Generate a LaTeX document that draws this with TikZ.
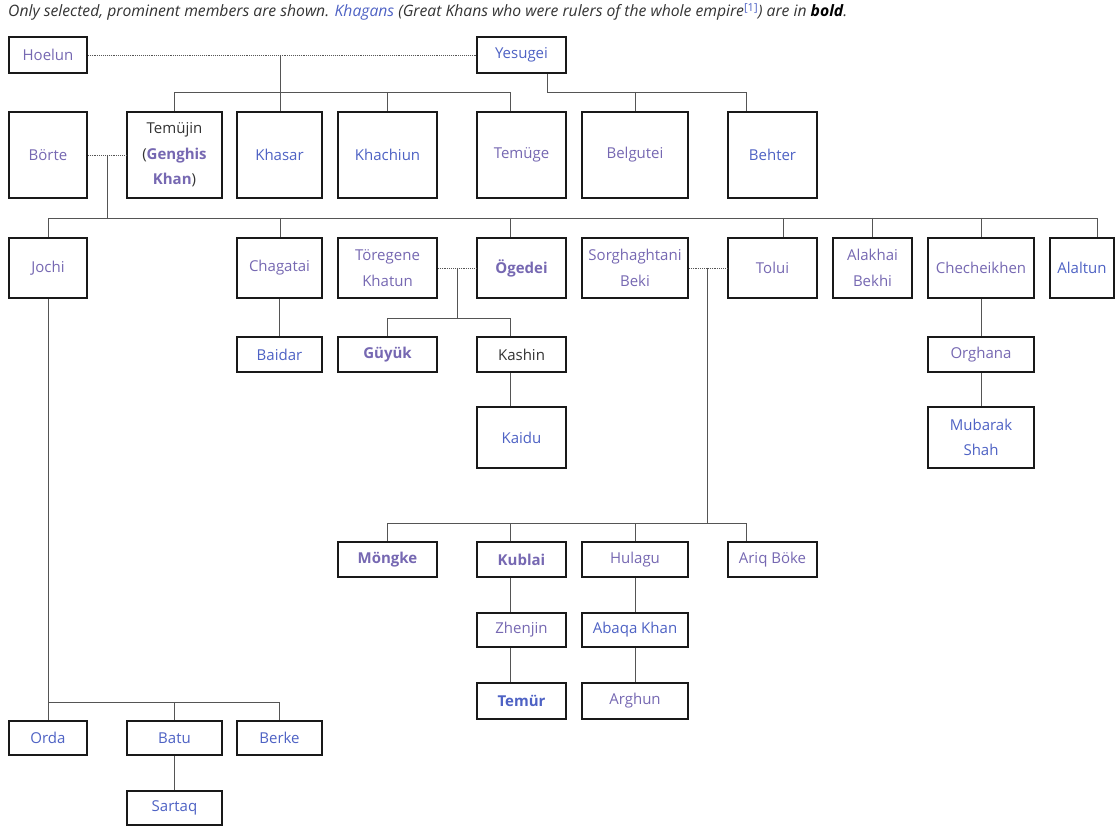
\documentclass[tikz,border=0pt]{standalone}
\usepackage{fontspec}
\setmainfont{Open Sans}
\definecolor{visited}{RGB}{118,104,178}
\definecolor{link}{RGB}{78,98,196}
\definecolor{txt}{RGB}{51,51,51}
\definecolor{lncol}{RGB}{85,85,85}
\tikzset{
  box/.style={draw=black!90, line width=1.6pt, fill=white, align=center, inner sep=0pt,
    font=\fontsize{15}{25.5}\selectfont, text=visited},
  sz/.style 2 args={minimum width=#1, minimum height=#2},
  ln/.style={draw=lncol, line width=0.9pt},
  dot/.style={draw=lncol, line width=0.9pt, densely dotted},
  bld/.style={font=\fontsize{15}{25.5}\selectfont\bfseries}
}
\begin{document}
\begin{tikzpicture}[x=1pt,y=-1pt]
\useasboundingbox (0,0) rectangle (1116,826);
% header
\node[anchor=base west, font=\itshape\fontsize{15.7}{17}\selectfont, text=txt, inner sep=0pt] (hdr) at (8,17)
 {Only selected, prominent members are shown. \textcolor{link}{Khagans} (Great Khans who were rulers of the whole empire\textsuperscript{\upshape\textcolor{link}{[1]}}) are in \textcolor{black}{\textbf{bold}}.};
% row 1
\node[box,sz={78pt}{36pt}] (hoelun) at (48,55) {Hoelun};
\node[box,sz={89pt}{36pt},text=link] (yesugei) at (521.5,55) {Yesugei};
% row 2
\node[box,sz={78pt}{86pt}] (borte) at (48,155) {Börte};
\node[box,sz={95pt}{86pt},text=txt] (temujin) at (174.5,155) {Temüjin\\(\textcolor{visited}{\textbf{Genghis}}\\\textcolor{visited}{\textbf{Khan}})};
\node[box,sz={85pt}{86pt},text=link] (khasar) at (279.5,155) {Khasar};
\node[box,sz={99pt}{86pt},text=link] (khachiun) at (387.5,155) {Khachiun};
\node[box,sz={89pt}{86pt}] (temuge) at (521.5,155) {Temüge};
\node[box,sz={106pt}{86pt}] (belgutei) at (635,155) {Belgutei};
\node[box,sz={89pt}{86pt},text=link] (behter) at (772.5,155) {Behter};
% row 3
\node[box,sz={78pt}{60pt}] (jochi) at (48,268) {Jochi};
\node[box,sz={85pt}{60pt}] (chagatai) at (279.5,268) {Chagatai};
\node[box,sz={99pt}{60pt}] (toregene) at (387.5,268) {Töregene\\Khatun};
\node[box,bld,sz={89pt}{60pt}] (ogedei) at (521.5,268) {Ögedei};
\node[box,sz={106pt}{60pt}] (sorghaghtani) at (635,268) {Sorghaghtani\\Beki};
\node[box,sz={89pt}{60pt}] (tolui) at (772.5,268) {Tolui};
\node[box,sz={79pt}{60pt}] (alakhai) at (872.5,268) {Alakhai\\Bekhi};
\node[box,sz={106pt}{60pt}] (checheikhen) at (981,268) {Checheikhen};
\node[box,sz={64pt}{60pt},text=link] (alaltun) at (1082,268) {Alaltun};
% row 4
\node[box,sz={85pt}{35pt},text=link] (baidar) at (279.5,354.5) {Baidar};
\node[box,bld,sz={99pt}{35pt}] (guyuk) at (387.5,354.5) {Güyük};
\node[box,sz={89pt}{35pt},text=txt] (kashin) at (521.5,354.5) {Kashin};
\node[box,sz={106pt}{35pt}] (orghana) at (981,354.5) {Orghana};
% row 5
\node[box,sz={89pt}{61pt},text=link] (kaidu) at (521.5,437.5) {Kaidu};
\node[box,sz={106pt}{61pt},text=link] (mubarak) at (981,437.5) {Mubarak\\Shah};
% row 6
\node[box,bld,sz={99pt}{35pt}] (mongke) at (387.5,559.5) {Möngke};
\node[box,bld,sz={89pt}{35pt}] (kublai) at (521.5,559.5) {Kublai};
\node[box,sz={106pt}{35pt}] (hulagu) at (635,559.5) {Hulagu};
\node[box,sz={89pt}{35pt}] (ariq) at (772.5,559.5) {Ariq Böke};
% row 7
\node[box,sz={89pt}{34pt}] (zhenjin) at (521.5,630) {Zhenjin};
\node[box,sz={106pt}{34pt},text=link] (abaqa) at (635,630) {Abaqa Khan};
% row 8
\node[box,bld,sz={89pt}{36pt},text=link] (temur) at (521.5,701) {Temür};
\node[box,sz={106pt}{36pt}] (arghun) at (635,701) {Arghun};
% row 9
\node[box,sz={78pt}{34pt},text=link] (orda) at (48,738) {Orda};
\node[box,sz={95pt}{34pt},text=link] (batu) at (174.5,738) {Batu};
\node[box,sz={85pt}{34pt},text=link] (berke) at (279.5,738) {Berke};
% row 10
\node[box,sz={95pt}{34pt},text=link] (sartaq) at (174.5,808) {Sartaq};
% junctions
\coordinate (hy) at (280,55);
\coordinate (bt) at (107,155);
\coordinate (to) at (457,268);
\coordinate (st) at (707,268);
% connectors: generation 1
\draw[dot] (hoelun) -- (yesugei);
\draw[ln] (hy) -- (hy |- khasar.north);
\draw[ln] (temujin.north) |- (510,92) -- (510,0 |- temuge.north);
\draw[ln] (khachiun.north) -- (khachiun.north |- 0,92);
\draw[ln] (547,0 |- yesugei.south) -- (547,92) -| (746,0 |- behter.north);
\draw[ln] (635,92) -- (belgutei.north);
% generation 2
\draw[dot] (borte) -- (temujin);
\draw[ln] (bt) -- (107,218);
\draw[ln] (jochi.north) |- (1097,218) -- (1097,0 |- alaltun.north);
\draw[ln] (280,218) -- (280,0 |- chagatai.north);
\draw[ln] (510,218) -- (510,0 |- ogedei.north);
\draw[ln] (783,218) -- (783,0 |- tolui.north);
\draw[ln] (872.5,218) -- (alakhai.north);
\draw[ln] (981,218) -- (checheikhen.north);
% Jochi line
\draw[ln] (jochi.south) -- (orda.north);
\draw[ln] (48,702) -| (berke.north);
\draw[ln] (174.5,702) -- (batu.north);
\draw[ln] (batu) -- (sartaq);
% Chagatai
\draw[ln] (chagatai) -- (baidar);
% Ogedei
\draw[dot] (toregene) -- (ogedei);
\draw[ln] (to) -- (457,318);
\draw[ln] (guyuk.north) |- (510,318) -- (510,0 |- kashin.north);
\draw[ln] (510,0 |- kashin.south) -- (510,0 |- kaidu.north);
% Tolui
\draw[dot] (sorghaghtani) -- (tolui);
\draw[ln] (st) -- (707,523);
\draw[ln] (mongke.north) |- (746,523) -- (746,0 |- ariq.north);
\draw[ln] (510,523) -- (510,0 |- kublai.north);
\draw[ln] (635,523) -- (hulagu.north);
\draw[ln] (510,0 |- kublai.south) -- (510,0 |- zhenjin.north);
\draw[ln] (510,0 |- zhenjin.south) -- (510,0 |- temur.north);
\draw[ln] (hulagu) -- (abaqa);
\draw[ln] (abaqa) -- (arghun);
% Checheikhen
\draw[ln] (checheikhen) -- (orghana);
\draw[ln] (orghana) -- (mubarak);
\end{tikzpicture}
\end{document}
